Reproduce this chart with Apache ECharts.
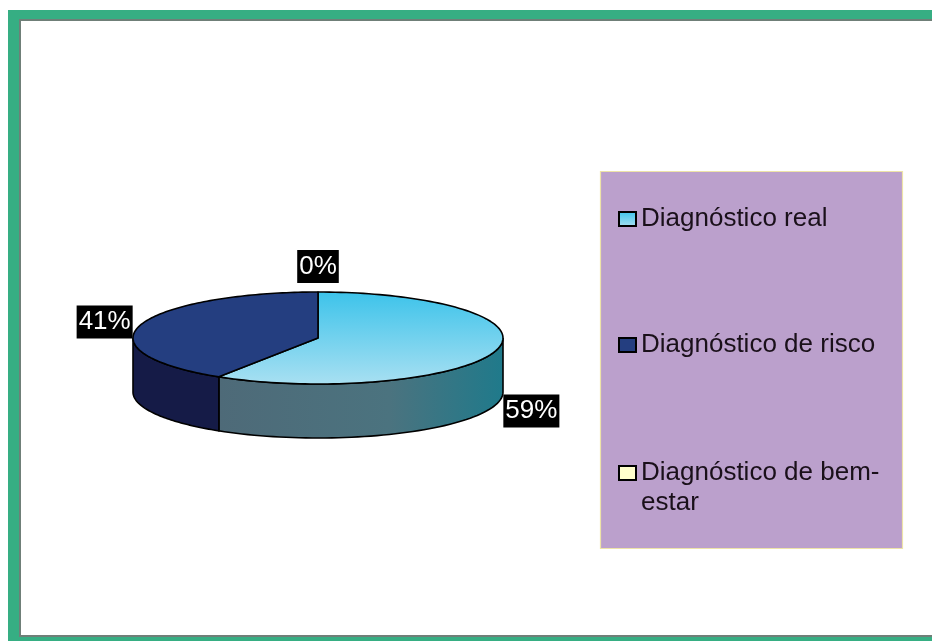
<!DOCTYPE html>
<html>
<head>
<meta charset="utf-8">
<script src="https://cdn.jsdelivr.net/npm/echarts@6/dist/echarts.min.js"></script>
<style>
  html, body { margin: 0; padding: 0; background: #ffffff; }
  #chart { width: 932px; height: 641px; }
</style>
</head>
<body>
<div id="chart"></div>
<script>
// ---- data ----
const categories = ['Diagnóstico real', 'Diagnóstico de risco', 'Diagnóstico de bem-estar'];
const percentValues = [59, 41, 0];

// ---- styling ----
const topFills = [
  new echarts.graphic.LinearGradient(0, 0, 0, 1, [
    { offset: 0, color: '#3CC3EA' }, { offset: 1, color: '#A9E0F2' }
  ]),
  '#243E80',
  '#FFFFCC'
];
const sideFills = [
  new echarts.graphic.LinearGradient(1, 0, 0, 0, [
    { offset: 0, color: '#1F7A8B' }, { offset: 0.4, color: '#4B737F' }, { offset: 1, color: '#4E6A78' }
  ]),
  '#151B47',
  '#CCCC99'
];
const legendFills = [
  new echarts.graphic.LinearGradient(0, 0, 0, 1, [
    { offset: 0, color: '#3CC3EA' }, { offset: 1, color: '#A9E0F2' }
  ]),
  '#243E80',
  '#FFFFCC'
];

// pie layout (like a pie's center / radius settings)
const pieLayout = { cx: 318, cy: 338, rx: 185, ry: 46, depth: 54 };
const FONT = "'Liberation Sans', Arial, sans-serif";

const total = percentValues.reduce((a, b) => a + b, 0);

function renderSlice(idx) {
  return function (params, api) {
    const L = pieLayout;
    const value = api.value(0);
    let before = 0;
    for (let k = 0; k < idx; k++) before += percentValues[k];
    const start = before / total * Math.PI * 2;
    const end = start + value / total * Math.PI * 2;
    const pt = (a, dy) => [L.cx + L.rx * Math.sin(a), L.cy - L.ry * Math.cos(a) + (dy || 0)];
    const children = [];
    // outer wall (front half only)
    const f0 = Math.max(start, Math.PI / 2), f1 = Math.min(end, Math.PI * 1.5);
    if (f1 > f0) {
      const pts = [];
      const n = 60;
      for (let s = 0; s <= n; s++) pts.push(pt(f0 + (f1 - f0) * s / n));
      for (let s = n; s >= 0; s--) pts.push(pt(f0 + (f1 - f0) * s / n, L.depth));
      children.push({
        type: 'polygon', shape: { points: pts }, z2: 1,
        style: { fill: sideFills[idx], stroke: '#000', lineWidth: 1.6 }
      });
    }
    // top face
    if (end > start) {
      const pts = [[L.cx, L.cy]];
      const n = 120;
      for (let s = 0; s <= n; s++) pts.push(pt(start + (end - start) * s / n));
      children.push({
        type: 'polygon', shape: { points: pts }, z2: 2,
        style: { fill: topFills[idx], stroke: '#000', lineWidth: 1.6, lineJoin: 'round' }
      });
    }
    // label
    let mid = (start + end) / 2;
    const sn = Math.sin(mid), cs = Math.cos(mid);
    const p = pt(mid, cs < 0 ? L.depth : 0);
    const ax = p[0] + 8 * sn, ay = p[1] - 8 * cs + (cs < 0 ? 4 : -1);
    let align = 'center', valign = 'middle';
    if (sn > 0.25) align = 'left'; else if (sn < -0.25) align = 'right';
    if (Math.abs(sn) <= 0.25) valign = cs > 0 ? 'bottom' : 'top';
    children.push({
      type: 'text', x: ax, y: ay, z2: 10,
      style: {
        text: Math.round(value / total * 100) + '%',
        fill: '#ffffff', backgroundColor: '#000000',
        fontSize: 26, fontFamily: FONT, lineHeight: 31, padding: [1, 2],
        align: align, verticalAlign: valign
      }
    });
    return { type: 'group', children: children };
  };
}

const series = categories.map((name, i) => ({
  type: 'custom',
  name: name,
  coordinateSystem: 'none',
  renderItem: renderSlice(i),
  itemStyle: { color: legendFills[i] },
  data: [[percentValues[i]]],
  silent: true,
  animation: false
}));

const chart = echarts.init(document.getElementById('chart'), null, { renderer: 'canvas' });
chart.setOption({
  animation: false,
  backgroundColor: '#ffffff',
  graphic: [
    { type: 'rect', shape: { x: 8, y: 10, width: 940, height: 640 }, style: { fill: '#36AE83' }, z: -10 },
    { type: 'rect', shape: { x: 19, y: 19, width: 930, height: 618 }, style: { fill: '#6F7F78' }, z: -9 },
    { type: 'rect', shape: { x: 21, y: 21, width: 930, height: 614 }, style: { fill: '#ffffff' }, z: -8 },
    { type: 'rect', shape: { x: 600.5, y: 171.5, width: 302, height: 377 },
      style: { fill: '#BBA0CC', stroke: '#EDE3A8', lineWidth: 1.2 }, z: -5 }
  ],
  legend: [
    {
      data: [categories[0], categories[1]],
      orient: 'vertical', left: 618, top: 204, padding: 0,
      itemGap: 96, itemWidth: 17, itemHeight: 14, icon: 'rect',
      itemStyle: { borderColor: '#000', borderWidth: 2 },
      textStyle: { fontSize: 26, fontFamily: FONT, color: '#1a101a', lineHeight: 30 },
      selectedMode: false
    },
    {
      data: [categories[2]],
      orient: 'vertical', left: 618, top: 428, padding: 0,
      itemWidth: 17, itemHeight: 14, icon: 'rect',
      itemStyle: { borderColor: '#000', borderWidth: 2 },
      formatter: () => ' \nDiagnóstico de bem-\nestar',
      textStyle: { fontSize: 26, fontFamily: FONT, color: '#1a101a', lineHeight: 30 },
      selectedMode: false
    }
  ],
  series: series
});
</script>
</body>
</html>
